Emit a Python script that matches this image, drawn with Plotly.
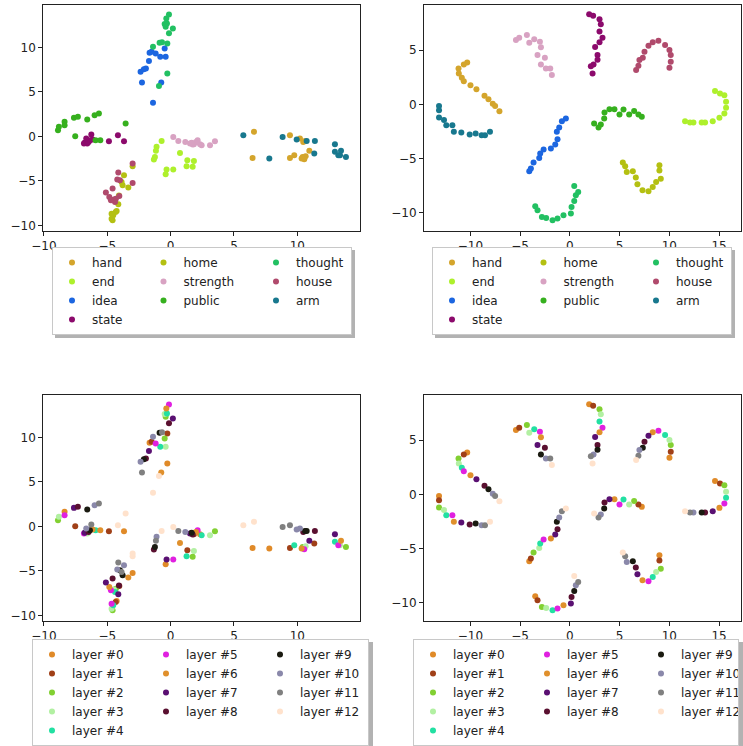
import plotly.graph_objects as go

W, H = 743, 746

words = ["hand", "end", "idea", "state", "home", "strength", "public", "thought", "house", "arm"]
word_colors = ["#d4a52c", "#aef02c", "#1c66e0", "#8c0a6c", "#b4c012", "#d8a2c2",
               "#36b01e", "#22c062", "#b04a6c", "#18788e"]
# legend column (column-major fill, 3 columns)
word_cols = [0, 0, 0, 0, 1, 1, 1, 2, 2, 2]

layer_names = [f"layer #{i}" for i in range(13)]
layer_colors = ["#e08a28", "#a04018", "#82d032", "#b2f0a2", "#22e0a2", "#e020e0", "#e0902c",
                "#5a1072", "#5a1030", "#1a1a10", "#8a88aa", "#808080", "#ffe2cc"]
layer_cols = [0, 0, 0, 0, 0, 1, 1, 1, 1, 2, 2, 2, 2]

# ---- PCA projection, 13 layers per word (layer 0 .. 12) ----
hand_pca_x = [6.47, 9.42, 10.42, 10.66, 9.76, 10.55, 10.34, 10.95, 10.47, 10.61, 10.21, 9.42, 6.58]
hand_pca_y = [-2.42, -2.42, -2.31, -2.23, -2.12, -2.57, -2.50, -1.63, -0.62, -0.51, -0.24, 0.13, 0.51]
end_pca_x = [-0.39, 1.32, 1.74, 1.84, 1.26, 0.21, 0.74, -0.32, -1.32, -1.24, -1.11, -1.16, -0.71]
end_pca_y = [-4.26, -2.68, -3.43, -2.76, -3.36, -3.73, -1.86, -3.73, -2.61, -2.31, -1.18, -1.63, -0.51]
idea_pca_x = [-1.66, -1.50, -0.47, -0.39, -0.82, -1.18, -0.74, -1.71, -1.95, -2.11, -2.37, -2.26, -1.39]
idea_pca_y = [9.40, 9.51, 9.89, 8.95, 8.95, 9.32, 6.06, 8.46, 7.64, 7.56, 7.26, 6.06, 3.77]
state_pca_x = [-3.68, -4.87, -6.68, -6.58, -6.50, -6.84, -6.16, -6.79, -6.47, -6.37, -6.66, -6.26, -4.16]
state_pca_y = [-0.54, -0.54, -0.73, -0.81, -0.51, -0.81, -0.36, -0.73, -0.62, -0.43, -0.24, 0.21, 0.13]
home_pca_x = [-4.26, -4.34, -4.58, -4.66, -4.53, -4.66, -3.34, -4.13, -4.08, -3.79, -3.68, -3.87, -3.00]
home_pca_y = [-8.39, -8.50, -9.44, -9.25, -8.88, -8.69, -5.76, -7.64, -6.66, -5.50, -4.37, -5.12, -3.36]
strength_pca_x = [2.32, 1.84, 3.50, 3.11, 2.45, 2.13, 2.00, 1.53, 1.74, 1.66, 1.16, 0.61, 0.21]
strength_pca_y = [-0.88, -0.88, -0.54, -0.99, -0.99, -0.43, -0.62, -0.81, -0.92, -0.73, -0.62, -0.51, -0.06]
public_pca_x = [-8.37, -7.53, -8.89, -8.82, -5.92, -8.37, -5.55, -7.63, -7.32, -6.58, -6.00, -5.66, -3.55]
public_pca_y = [1.63, 0.02, 0.69, 1.07, -0.43, 1.26, -0.43, 2.08, 2.20, 1.89, 2.38, 2.57, 1.44]
thought_pca_x = [-0.26, -0.26, -0.39, -0.47, -0.29, -0.13, -0.34, 0.18, -0.13, -0.87, -1.39, -0.68, -0.92]
thought_pca_y = [7.07, 10.44, 12.33, 12.63, 12.70, 13.71, 13.26, 12.14, 11.58, 10.53, 10.07, 10.57, 5.65]
house_pca_x = [-3.00, -4.05, -4.32, -4.47, -4.39, -4.71, -4.84, -5.11, -4.58, -4.00, -4.21, -4.13, -3.00]
house_pca_y = [-5.23, -6.70, -7.00, -7.11, -7.37, -7.19, -6.81, -6.32, -5.87, -4.93, -4.86, -4.07, -3.06]
arm_pca_x = [7.79, 11.34, 13.84, 13.37, 12.97, 13.24, 13.45, 12.97, 11.39, 10.74, 9.95, 8.84, 5.74]
arm_pca_y = [-2.50, -1.93, -2.31, -2.12, -1.74, -2.12, -1.63, -0.88, -0.51, -0.51, -0.36, -0.06, 0.13]

# ---- t-SNE projection, 13 layers per word (layer 0 .. 12) ----
hand_tsne_x = [-10.32, -10.66, -11.19, -11.16, -10.86, -10.66, -9.99, -9.39, -8.58, -8.18, -7.75, -7.51, -7.08]
hand_tsne_y = [3.86, 3.68, 3.31, 2.85, 2.45, 2.14, 1.77, 1.40, 0.79, 0.48, 0.05, -0.14, -0.63]
end_tsne_x = [14.59, 15.09, 15.53, 15.70, 15.70, 15.53, 15.03, 14.36, 13.59, 13.25, 12.42, 12.08, 11.58]
end_tsne_y = [1.22, 1.01, 0.85, 0.24, -0.32, -0.84, -1.24, -1.55, -1.67, -1.67, -1.67, -1.67, -1.55]
idea_tsne_x = [-4.08, -3.92, -3.65, -3.08, -2.98, -2.64, -1.91, -1.47, -1.24, -1.31, -1.07, -0.80, -0.40]
idea_tsne_y = [-6.16, -5.91, -5.36, -4.93, -4.53, -4.16, -4.07, -3.70, -3.21, -2.53, -2.13, -1.55, -1.30]
state_tsne_x = [1.94, 2.34, 2.98, 3.11, 2.98, 3.28, 2.98, 2.54, 2.78, 2.78, 2.38, 2.11, 2.28]
state_tsne_y = [8.29, 8.17, 7.83, 7.37, 6.72, 6.14, 5.71, 5.28, 4.54, 4.10, 3.68, 3.50, 2.85]
home_tsne_x = [9.00, 9.00, 9.14, 8.67, 8.33, 7.90, 7.30, 6.79, 6.63, 6.33, 5.72, 5.56, 5.32]
home_tsne_y = [-5.60, -6.10, -6.84, -7.14, -7.61, -8.01, -7.91, -7.36, -6.74, -6.16, -6.22, -5.70, -5.36]
strength_tsne_x = [-5.42, -5.09, -4.32, -4.08, -3.58, -3.01, -2.91, -3.25, -2.51, -2.91, -2.41, -1.97, -1.81]
strength_tsne_y = [5.92, 6.14, 6.38, 5.68, 5.99, 5.77, 5.25, 4.54, 4.30, 3.68, 3.31, 3.31, 2.70]
public_tsne_x = [7.23, 6.89, 6.46, 5.96, 5.39, 4.99, 4.48, 3.98, 3.48, 3.45, 3.11, 2.88, 2.44]
public_tsne_y = [-1.15, -0.93, -0.62, -0.93, -0.47, -0.93, -0.44, -0.44, -0.75, -1.30, -1.85, -2.13, -1.76]
thought_tsne_x = [-3.48, -3.25, -2.81, -2.38, -1.74, -1.24, -0.64, 0.10, 0.17, 0.44, 0.60, 0.84, 0.44]
thought_tsne_y = [-9.39, -9.75, -10.37, -10.46, -10.68, -10.52, -10.21, -10.06, -9.45, -8.89, -8.37, -8.06, -7.51]
house_tsne_x = [10.01, 10.14, 10.14, 10.01, 9.57, 8.90, 8.33, 7.90, 7.50, 7.33, 6.99, 6.89, 6.66]
house_tsne_y = [3.37, 3.93, 4.54, 5.00, 5.46, 5.86, 5.71, 5.40, 4.85, 4.29, 4.08, 3.56, 3.16]
arm_tsne_x = [-13.15, -13.15, -13.15, -12.65, -12.42, -11.81, -11.66, -10.91, -10.07, -9.47, -8.87, -8.53, -8.03]
arm_tsne_y = [-0.16, -0.53, -1.21, -1.45, -1.92, -1.92, -2.53, -2.59, -2.78, -2.68, -2.84, -2.84, -2.53]

pca = {
    "hand": (hand_pca_x, hand_pca_y), "end": (end_pca_x, end_pca_y),
    "idea": (idea_pca_x, idea_pca_y), "state": (state_pca_x, state_pca_y),
    "home": (home_pca_x, home_pca_y), "strength": (strength_pca_x, strength_pca_y),
    "public": (public_pca_x, public_pca_y), "thought": (thought_pca_x, thought_pca_y),
    "house": (house_pca_x, house_pca_y), "arm": (arm_pca_x, arm_pca_y),
}
tsne = {
    "hand": (hand_tsne_x, hand_tsne_y), "end": (end_tsne_x, end_tsne_y),
    "idea": (idea_tsne_x, idea_tsne_y), "state": (state_tsne_x, state_tsne_y),
    "home": (home_tsne_x, home_tsne_y), "strength": (strength_tsne_x, strength_tsne_y),
    "public": (public_tsne_x, public_tsne_y), "thought": (thought_tsne_x, thought_tsne_y),
    "house": (house_tsne_x, house_tsne_y), "arm": (arm_tsne_x, arm_tsne_y),
}


def px_x(p):
    return p / W


def px_y(p):
    return 1 - p / H


MS = 6
fig = go.Figure()

word_legend_w = [46.5, 67.5, 50]
layer_legend_w_left = [69, 69, 63]
layer_legend_w_right = [69, 69, 52]

for ax, proj, leg in (("", pca, "legend"), ("2", tsne, "legend2")):
    for w, c, col in zip(words, word_colors, word_cols):
        xs, ys = proj[w]
        fig.add_trace(go.Scatter(
            x=xs, y=ys, mode="markers", name=w,
            marker=dict(color=c, size=MS),
            xaxis="x" + ax, yaxis="y" + ax, legend=leg,
            legendgroup=f"{leg}_c{col}", legendwidth=word_legend_w[col],
        ))

for ax, proj, leg, lw in (("3", pca, "legend3", layer_legend_w_left),
                          ("4", tsne, "legend4", layer_legend_w_right)):
    for i, (name, c, col) in enumerate(zip(layer_names, layer_colors, layer_cols)):
        xs = [proj[w][0][i] for w in words]
        ys = [proj[w][1][i] for w in words]
        fig.add_trace(go.Scatter(
            x=xs, y=ys, mode="markers", name=name,
            marker=dict(color=c, size=MS),
            xaxis="x" + ax, yaxis="y" + ax, legend=leg,
            legendgroup=f"{leg}_c{col}", legendwidth=lw[col],
        ))

axis_style = dict(
    showline=True, mirror=True, linecolor="#222222", linewidth=1,
    ticks="outside", ticklen=4, tickwidth=1, tickcolor="#222222",
    showgrid=False, zeroline=False, dtick=5, tick0=0,
    tickfont=dict(size=12, color="#222222"),
)

left_dom = [px_x(43.3), px_x(360)]
right_dom = [px_x(424), px_x(740.5)]
top_dom = [px_y(231), px_y(5)]
bot_dom = [px_y(621), px_y(395)]

pca_xr, pca_yr = [-10.05, 14.95], [-10.64, 14.77]
tsne_xr, tsne_yr = [-14.66, 17.15], [-11.66, 9.15]

fig.update_layout(
    xaxis=dict(domain=left_dom, range=pca_xr, anchor="y", **axis_style),
    yaxis=dict(domain=top_dom, range=pca_yr, anchor="x", **axis_style),
    xaxis2=dict(domain=right_dom, range=tsne_xr, anchor="y2", **axis_style),
    yaxis2=dict(domain=top_dom, range=tsne_yr, anchor="x2", **axis_style),
    xaxis3=dict(domain=left_dom, range=pca_xr, anchor="y3", **axis_style),
    yaxis3=dict(domain=bot_dom, range=pca_yr, anchor="x3", **axis_style),
    xaxis4=dict(domain=right_dom, range=tsne_xr, anchor="y4", **axis_style),
    yaxis4=dict(domain=bot_dom, range=tsne_yr, anchor="x4", **axis_style),
)

legend_style = dict(
    orientation="h", traceorder="grouped", xanchor="left", yanchor="top",
    bgcolor="white", bordercolor="#c8c8c8", borderwidth=1,
    font=dict(size=12, color="#222222"),
)
legend_pos = {
    "legend": (52, 247), "legend2": (432, 247),
    "legend3": (32, 639), "legend4": (413, 639),
}
legends = {k: dict(x=px_x(v[0]), y=px_y(v[1]), **legend_style) for k, v in legend_pos.items()}

# drop shadows behind the legend boxes
shadow_boxes = [(52, 247, 300, 88), (432, 247, 300, 88), (32, 639, 338, 107), (413, 639, 340, 107)]
shapes = []
for lx, ly, lwid, lht in shadow_boxes:
    shapes.append(dict(
        type="rect", xref="paper", yref="paper", layer="above",
        x0=px_x(lx + 3), x1=px_x(lx + lwid + 3), y0=px_y(ly + lht + 3), y1=px_y(ly + 3),
        fillcolor="rgba(0,0,0,0.3)", line=dict(width=0),
    ))

fig.update_layout(
    width=W, height=H,
    margin=dict(l=0, r=0, t=0, b=0, autoexpand=False),
    paper_bgcolor="white", plot_bgcolor="white",
    font=dict(family="DejaVu Sans", size=12, color="#222222"),
    showlegend=True, shapes=shapes,
    **legends,
)

fig.write_html("out.html")
